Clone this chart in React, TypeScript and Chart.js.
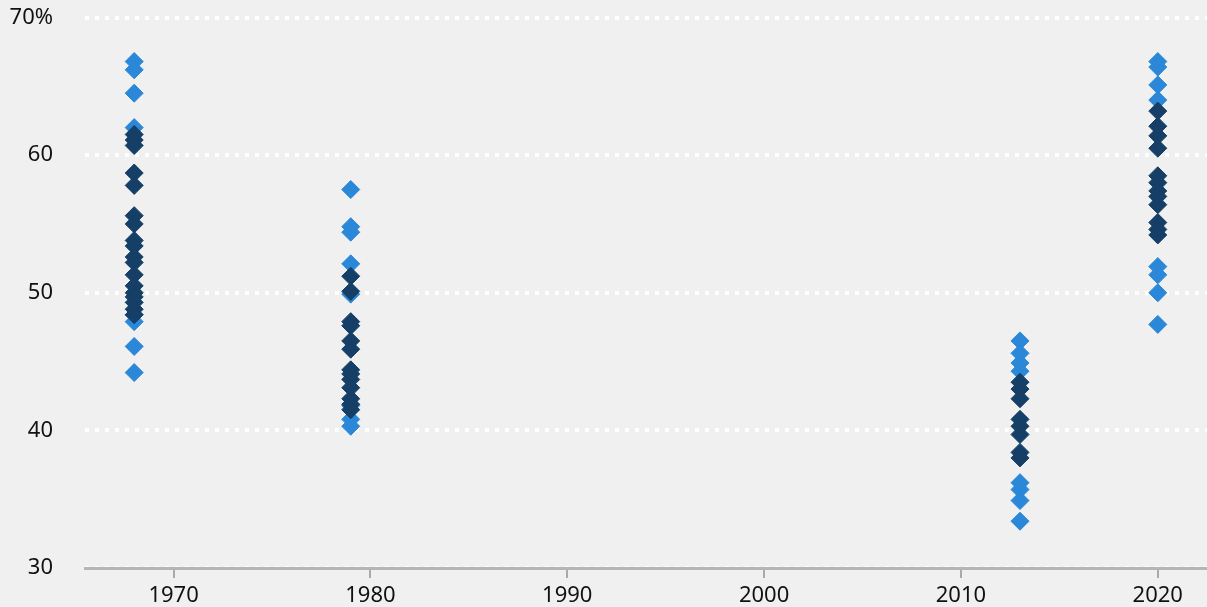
import React, { useEffect, useRef } from 'react';
import { Chart, registerables } from 'chart.js';

Chart.register(...registerables);

// Years (x positions of the clusters)
const year1968 = 1968;
const year1979 = 1979;
const year2013 = 2013;
const year2020 = 2020;

// Outer (light blue) values, %
const outer1968 = [66.8, 66.2, 64.5, 62.0, 48.4, 47.9, 46.1, 44.2];
const outer1979 = [57.5, 54.8, 54.4, 52.1, 49.9, 41.8, 40.8, 40.3];
const outer2013 = [46.5, 45.6, 44.9, 44.3, 36.2, 35.7, 34.9, 33.4];
const outer2020 = [66.8, 66.4, 65.1, 64.0, 51.9, 51.3, 50.0, 47.7];

// Inner (dark navy) values, %
const inner1968 = [61.5, 61.1, 60.7, 58.7, 57.8, 55.6, 55.0, 53.8, 53.4, 52.6, 52.2, 51.3, 50.5, 50.0, 49.7, 49.3, 48.8, 48.4];
const inner1979 = [51.2, 50.1, 47.9, 47.6, 46.5, 45.9, 44.4, 44.1, 43.7, 43.1, 42.3, 41.9, 41.5];
const inner2013 = [43.5, 43.0, 42.3, 40.8, 40.3, 39.7, 38.4, 38.0];
const inner2020 = [63.2, 62.1, 61.4, 60.5, 58.5, 58.0, 57.4, 57.0, 56.4, 55.1, 54.6, 54.2];

// Axis ticks
const xTickValues = [1970, 1980, 1990, 2000, 2010, 2020];
const yTickValues = [30, 40, 50, 60, 70];

const LIGHT = '#2b87d8';
const DARK = '#153f66';
const BG = '#f0f0f0';

function toPoints(year: number, values: number[]) {
  return values.map((v) => ({ x: year, y: v }));
}

export default function App() {
  const ref = useRef<HTMLCanvasElement | null>(null);

  useEffect(() => {
    if (!ref.current) return;
    const font = { family: '"Noto Sans", "Liberation Sans", sans-serif', size: 22 };
    const bgPlugin = {
      id: 'bg',
      beforeDraw(chart: any) {
        const { ctx, width, height } = chart;
        ctx.save();
        ctx.fillStyle = BG;
        ctx.fillRect(0, 0, width, height);
        ctx.restore();
      },
    };
    const chart = new Chart(ref.current, {
      type: 'scatter',
      data: {
        datasets: [
          {
            label: 'inner',
            data: [
              ...toPoints(year1968, inner1968),
              ...toPoints(year1979, inner1979),
              ...toPoints(year2013, inner2013),
              ...toPoints(year2020, inner2020),
            ],
            pointStyle: 'rectRot',
            pointRadius: 9,
            borderWidth: 1,
            backgroundColor: DARK,
            borderColor: DARK,
          },
          {
            label: 'outer',
            data: [
              ...toPoints(year1968, outer1968),
              ...toPoints(year1979, outer1979),
              ...toPoints(year2013, outer2013),
              ...toPoints(year2020, outer2020),
            ],
            pointStyle: 'rectRot',
            pointRadius: 9,
            borderWidth: 1,
            backgroundColor: LIGHT,
            borderColor: LIGHT,
          },
        ],
      },
      options: {
        responsive: false,
        animation: false,
        layout: { autoPadding: false, padding: { top: 17.5, right: 0, bottom: 0, left: 0 } },
        plugins: { legend: { display: false }, tooltip: { enabled: false } },
        scales: {
          x: {
            type: 'linear',
            min: 1965.5,
            max: 2022.5,
            afterBuildTicks: (s: any) => {
              s.ticks = xTickValues.map((v) => ({ value: v }));
            },
            afterFit: (s: any) => {
              s.height = 39;
              s.paddingLeft = 0;
              s.paddingRight = 0;
            },
            ticks: {
              font,
              color: '#111111',
              padding: 5,
              maxRotation: 0,
              autoSkip: false,
              callback: (v: any) => String(v),
            },
            grid: {
              drawOnChartArea: false,
              drawTicks: true,
              tickLength: 10,
              color: '#aaaaaa',
              lineWidth: 2,
            },
            border: { display: true, color: '#b5b5b5', width: 3 },
          },
          y: {
            type: 'linear',
            min: 30,
            max: 70,
            afterBuildTicks: (s: any) => {
              s.ticks = yTickValues.map((v) => ({ value: v }));
            },
            afterFit: (s: any) => {
              s.width = 85;
              s.paddingTop = 0;
              s.paddingBottom = 0;
            },
            ticks: {
              font,
              color: '#111111',
              padding: 32,
              callback: (v: any) => (v === 70 ? '70%' : String(v)),
            },
            grid: { drawTicks: false, color: '#ffffff', lineWidth: 4 },
            border: { display: false, dash: [4, 6] },
          },
        },
      },
      plugins: [bgPlugin],
    } as any);
    return () => chart.destroy();
  }, []);

  return (
    <div style={{ position: 'fixed', left: 0, top: 0, width: 1207, height: 607, background: BG }}>
      <canvas ref={ref} width={1207} height={607} style={{ display: 'block' }} />
    </div>
  );
}
